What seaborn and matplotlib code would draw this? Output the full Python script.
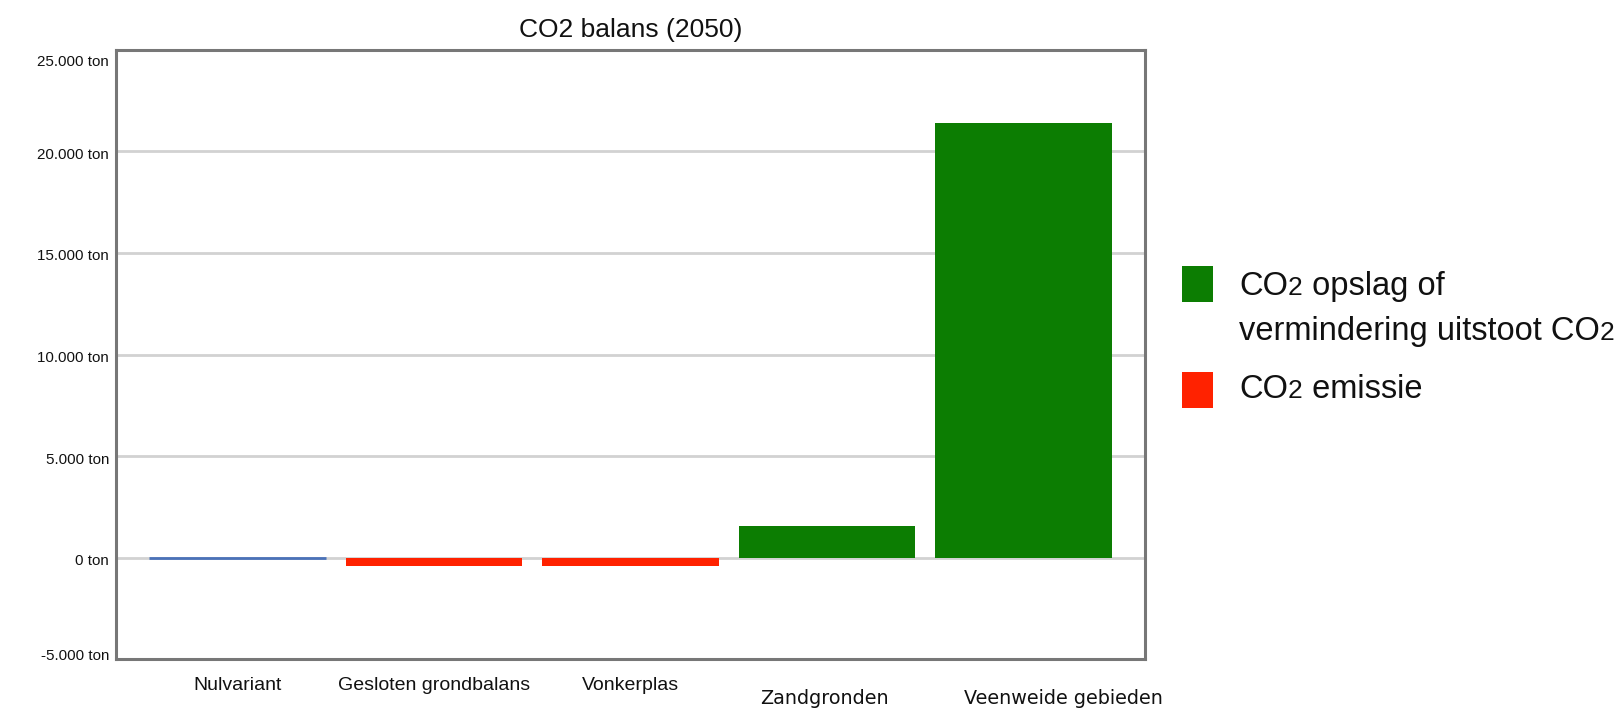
import matplotlib
matplotlib.use("Agg")
import matplotlib.pyplot as plt
from matplotlib.patches import Rectangle
from matplotlib.ticker import FuncFormatter
from matplotlib.transforms import ScaledTranslation
import seaborn as sns
import pandas as pd

# CO2 balance per scenario in 2050 (ton)
categories = ["Nulvariant", "Gesloten grondbalans", "Vonkerplas", "Zandgronden", "Veenweide gebieden"]
values = [0, -400, -400, 1550, 21400]
kinds = ["neutraal", "emissie", "emissie", "opslag", "opslag"]
y_ticks = [-5000, 0, 5000, 10000, 15000, 20000, 25000]

# legend lines: pieces of text, the "2" of CO2 set in a smaller size
legend_lines = [
    ("opslag", [("CO", False), ("2", True), (" opslag of", False)]),
    (None, [("vermindering uitstoot CO", False), ("2", True)]),
    ("emissie", [("CO", False), ("2", True), (" emissie", False)]),
]

colors = {"neutraal": "#4a72b8", "emissie": "#ff2200", "opslag": "#0c7d02"}

sns.set_theme(style="white")
plt.rcParams["font.family"] = ["Liberation Sans", "DejaVu Sans"]

df = pd.DataFrame({"scenario": categories, "ton": values, "soort": kinds})

W, H = 1620, 711
fig = plt.figure(figsize=(W / 100, H / 100), dpi=100)
ax = fig.add_axes([116 / W, 1 - 659 / H, (1145 - 116) / W, (659 - 50) / H])

sns.barplot(data=df, x="scenario", y="ton", hue="soort", palette=colors,
            dodge=False, width=0.9, legend=False, ax=ax, zorder=3,
            saturation=1)

# zero-height bar shows as a thin line on the baseline
for p in ax.patches:
    if p.get_height() == 0:
        p.set_edgecolor(colors["neutraal"])
        p.set_linewidth(2)
    else:
        p.set_edgecolor("none")

ax.set_xlim(-0.62, 4.62)
ax.set_ylim(y_ticks[0], y_ticks[-1])
ax.set_yticks(y_ticks)
ax.yaxis.set_major_formatter(
    FuncFormatter(lambda v, _: f"{int(v):,}".replace(",", ".") + " ton"))
ax.grid(axis="y", color="#d2d2d2", linewidth=2, zorder=0)
ax.set_axisbelow(True)
ax.tick_params(axis="both", length=0)
ax.tick_params(axis="y", pad=5)
ylabels = ax.get_yticklabels()
for k, lbl in enumerate(ylabels):
    lbl.set_fontsize(10.9)
    lbl.set_color("#111111")
    # the outermost labels are kept inside the frame
    if k == 0:
        drop = -4
    elif k == len(ylabels) - 1:
        drop = 11
    else:
        drop = 2
    lbl.set_transform(lbl.get_transform()
                      + ScaledTranslation(0, -drop / 100, fig.dpi_scale_trans))

for s in ax.spines.values():
    s.set_visible(True)
    s.set_color("#777777")
    s.set_linewidth(2.2)

ax.set_xlabel("")
ax.set_ylabel("")

# first three scenario names as tick labels, last two set lower in another face
ax.set_xticks(range(len(categories)))
ax.set_xticklabels([c if i < 3 else "" for i, c in enumerate(categories)])
ax.tick_params(axis="x", pad=13)
for lbl in ax.get_xticklabels():
    lbl.set_fontsize(14)
    lbl.set_color("#111111")

shifts = {3: -2, 4: 40}
for i in (3, 4):
    ax.annotate(categories[i], xy=(i, 0), xycoords=("data", "axes fraction"),
                xytext=(shifts[i] * 0.72, -40 * 0.72), textcoords="offset points",
                ha="center", va="center", fontsize=13.8,
                family="DejaVu Sans", color="#111111", annotation_clip=False)

ax.set_title("CO2 balans (2050)", fontsize=19, pad=9, color="#111111")

# legend on the right: colour squares and text lines
big, small = 23.5, 19
text_x = 1239
baselines = [295, 340, 398]
square_tops = {"opslag": 266, "emissie": 372}
for (kind, parts), base in zip(legend_lines, baselines):
    if kind is not None:
        top = square_tops[kind]
        fig.add_artist(Rectangle((1182 / W, 1 - (top + 36) / H), 31 / W, 36 / H,
                                 transform=fig.transFigure,
                                 facecolor=colors[kind], edgecolor="none"))
    yf = 1 - base / H
    prev = None
    for s, is_small in parts:
        size = small if is_small else big
        if prev is None:
            prev = fig.text(text_x / W, yf, s, fontsize=size, va="baseline",
                            ha="left", color="#111111")
        else:
            prev = ax.annotate(s, xy=(1, yf), xycoords=(prev, "figure fraction"),
                               fontsize=size, va="baseline", ha="left",
                               color="#111111", annotation_clip=False)

fig.savefig("out.png", dpi=100, facecolor="white")
